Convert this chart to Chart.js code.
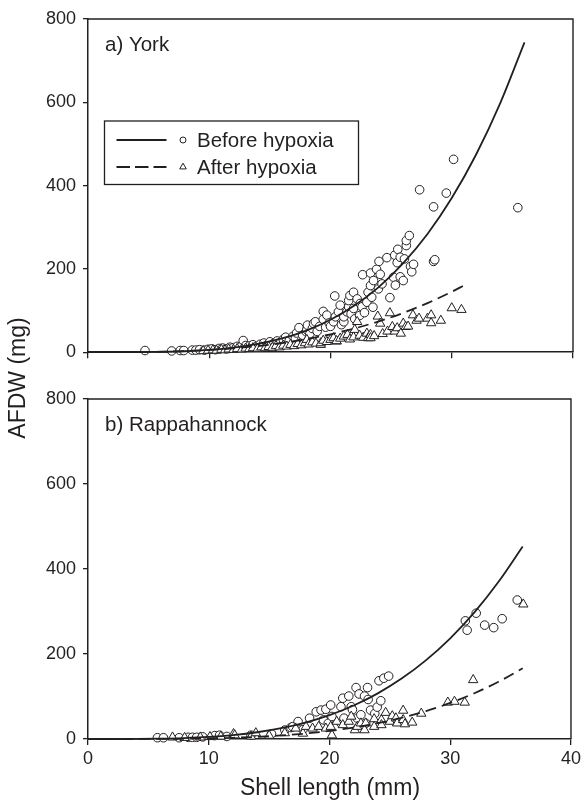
<!DOCTYPE html>
<html><head><meta charset="utf-8">
<script src="https://cdn.jsdelivr.net/npm/chart.js@4.4.0/dist/chart.umd.min.js"></script>
<style>
html,body{margin:0;padding:0;background:#fff;}
body{width:584px;height:801px;position:relative;overflow:hidden;font-family:"Liberation Sans",Arial,sans-serif;color:#231f20;}
#w1{position:absolute;left:0;top:0;width:584px;height:370px;}
#w2{position:absolute;left:0;top:380px;width:584px;height:421px;}
.ytitle{position:absolute;left:-83px;top:363px;width:200px;height:30px;line-height:30px;text-align:center;font-size:23px;transform:rotate(-90deg);white-space:nowrap;}
.xtitle{position:absolute;left:180px;top:772px;width:300px;height:30px;line-height:30px;text-align:center;font-size:23px;white-space:nowrap;}
</style></head>
<body>
<div id="w1"><canvas id="c1" width="584" height="370"></canvas></div>
<div id="w2"><canvas id="c2" width="584" height="421"></canvas></div>
<div class="ytitle">AFDW (mg)</div>
<div class="xtitle">Shell length (mm)</div>
<script>
// ---------- data ----------
const xTicks = [0, 10, 20, 30, 40];
const yTicks = [0, 200, 400, 600, 800];
const panelNames = ['a) York', 'b) Rappahannock'];
const seriesNames = ['Before hypoxia', 'After hypoxia'];

// fitted curves
const curveX = [0,2,4,6,8,10,12,14,16,18,20,22,24,26,28,30,32,34,36];
const yorkBeforeFit = [0,0,0.2,0.8,2.3,5.5,11.1,20,33,52,78,113,157,214,284,370,474,598,744];
const yorkAfterCurveX = [0,2,4,6,8,10,12,14,16,18,20,22,24,26,28,30,31];
const yorkAfterFit = [0,0.04,0.34,1.16,2.75,5.4,9.3,14.7,22,31.3,43,57.2,74.2,94.4,117.9,145,160];
const rappBeforeFit = [0,0,0.2,0.8,2.2,4.8,9.2,15.9,25.5,38.7,56.2,78.9,107.4,142.7,185.6,237,298,370,453];
const rappAfterFit = [0,0,0.05,0.22,0.64,1.46,2.86,5.06,8.3,12.8,18.9,26.9,37.1,50,65.7,84.8,107.7,134.7,166.5];

// York, before hypoxia (circles)
const yorkBeforeX = [4.7,6.9,7.6,7.9,8.6,8.9,9.2,9.6,9.9,10.2,10.5,10.8,11.1,11.4,11.7,12.0,12.3,12.6,12.8,13.0,13.3,13.6,13.9,14.2,14.5,14.8,15.0,15.3,15.6,15.9,16.1,16.3,16.6,16.9,17.1,17.2,17.4,17.7,18.0,18.05,18.1,18.3,18.5,18.6,18.75,18.9,19.1,19.4,19.4,19.6,19.7,19.9,20.0,20.25,20.35,20.4,20.65,20.8,20.9,21.1,21.1,21.35,21.5,21.5,21.6,21.7,21.9,21.9,22.0,22.2,22.4,22.45,22.6,22.65,22.8,23.0,23.1,23.3,23.3,23.4,23.5,23.55,23.8,23.95,24.0,24.1,24.25,24.65,24.9,25.2,25.3,25.35,25.5,25.55,25.75,25.75,26.0,26.1,26.25,26.25,26.5,26.6,26.7,26.85,27.35,28.5,28.5,28.6,29.55,30.15,35.45];
const yorkBeforeY = [4,3,4,4,5,5,6,5,7,8,6,9,10,8,12,11,14,13,28,16,15,18,14,19,22,18,25,21,27,24,31,36,28,38,33,46,59,41,49,54,65,44,57,69,73,50,62,79,98,60,89,70,62,73,135,85,97,113,66,73,85,97,109,124,136,92,105,144,80,128,88,117,109,186,95,120,144,160,190,132,108,172,199,152,218,187,164,227,131,180,233,161,215,247,181,228,172,224,256,268,280,206,193,211,390,349,218,222,382,463,347];

// York, after hypoxia (triangles)
const yorkAfterX = [9.5,9.9,10.3,10.6,11.0,11.3,11.6,12.0,12.3,12.7,13.0,13.3,13.6,14.0,14.3,14.6,14.9,15.2,15.5,15.8,16.1,16.4,16.7,17.0,17.3,17.6,17.9,18.05,18.2,18.5,18.8,19.2,19.2,19.4,19.7,20.0,20.25,20.5,20.5,20.8,21.1,21.4,21.6,21.9,22.0,22.2,22.4,22.7,23.0,23.1,23.3,23.3,23.6,23.9,24.1,24.3,24.7,24.9,25.1,25.3,25.5,25.8,26.0,26.2,26.4,26.8,27.1,27.3,28.0,28.3,28.3,29.1,30.0,30.8];
const yorkAfterY = [3,4,5,4,6,5,7,6,8,7,9,8,10,9,12,10,13,11,15,12,16,14,18,15,20,17,22,30,19,24,21,18,22,28,25,30,34,26,27,33,38,42,31,36,54,73,40,35,45,34,42,34,39,86,69,44,50,94,61,50,58,45,69,61,62,89,76,81,81,70,89,76,106,102];

// Rappahannock, before hypoxia (circles)
const rappBeforeX = [5.75,6.25,7.55,8.3,8.65,9.0,9.5,10.5,10.9,11.5,13.5,15.2,16.3,16.8,16.95,17.4,17.8,18.35,18.9,19.3,19.5,19.7,19.9,20.1,20.2,20.95,20.95,21.1,21.2,21.6,21.8,21.9,22.2,22.3,22.45,22.6,22.9,23.0,23.15,23.2,23.4,23.75,23.95,24.1,24.25,24.5,24.9,31.25,31.4,32.15,32.85,33.6,34.3,35.55];
const rappBeforeY = [3,3,3,4,4,4,5,8,9,6,9,12,21,27,29,41,22,49,64,68,45,70,37,80,53,76,37,96,49,101,76,69,121,49,106,57,101,37,121,93,68,60,75,137,90,143,148,278,256,296,268,262,283,327];

// Rappahannock, after hypoxia (triangles)
const rappAfterX = [7.0,8.0,9.3,10.1,11.0,12.05,12.15,13.5,13.9,15.0,16.3,17.2,17.8,18.05,18.6,19.1,19.7,20.1,20.2,20.6,21.1,21.6,21.8,22.1,22.3,22.6,22.9,23.0,23.7,23.7,24.3,24.3,24.65,25.0,25.2,25.5,25.6,26.1,26.1,26.25,26.85,27.6,29.8,30.35,31.2,31.9,36.05];
const rappAfterY = [4,3,4,5,6,12,9,6,14,8,14,25,13,29,25,29,25,29,9,41,33,41,53,21,29,37,21,37,47,29,45,33,62,41,54,49,37,67,45,35,39,60,86,88,86,139,317];

// ---------- drawing ----------
const INK = '#231f20';
const FONT = '"Liberation Sans", Arial, sans-serif';
const pts = (xs, ys) => xs.map((x, i) => ({x: x, y: ys[i]}));

function datasets(bx, by, ax, ay, cbx, cby, cax, cay) {
  return [
    {label: seriesNames[0] + ' fit', data: pts(cbx, cby), showLine: true, pointRadius: 0,
     borderColor: INK, borderWidth: 1.8, cubicInterpolationMode: 'monotone', clip: false},
    {label: seriesNames[1] + ' fit', data: pts(cax, cay), showLine: true, pointRadius: 0,
     borderColor: INK, borderWidth: 1.8, borderDash: [11, 6], cubicInterpolationMode: 'monotone', clip: false},
    {label: seriesNames[1], data: pts(ax, ay), pointStyle: 'triangle', pointRadius: 5.4,
     backgroundColor: '#fff', borderColor: INK, borderWidth: 1, clip: false},
    {label: seriesNames[0], data: pts(bx, by), pointStyle: 'circle', pointRadius: 4.3,
     backgroundColor: '#fff', borderColor: INK, borderWidth: 1, clip: false}
  ];
}

function options(showXLabels, xAxisHeight) {
  return {
    responsive: false, animation: false, devicePixelRatio: 1,
    layout: {padding: {top: 19, right: 11, left: 0, bottom: 0}},
    plugins: {legend: {display: false}, tooltip: {enabled: false}},
    scales: {
      x: {type: 'linear', min: 0, max: 40,
        afterBuildTicks: (a) => { a.ticks = xTicks.map(v => ({value: v})); },
        ticks: {display: showXLabels, font: {family: FONT, size: 18}, color: INK, padding: 3, maxRotation: 0},
        grid: {drawOnChartArea: false, drawTicks: true, tickLength: 6, color: INK, lineWidth: 1.3},
        border: {display: true, color: INK, width: 1.5},
        afterFit: (a) => { a.height = xAxisHeight; }
      },
      y: {type: 'linear', min: 0, max: 800,
        afterBuildTicks: (a) => { a.ticks = yTicks.map(v => ({value: v})); },
        ticks: {font: {family: FONT, size: 18}, color: INK, padding: 7},
        grid: {drawOnChartArea: false, drawTicks: true, tickLength: 5, color: INK, lineWidth: 1.3},
        border: {display: true, color: INK, width: 1.5},
        afterFit: (a) => { a.width = 88; }
      }
    }
  };
}

function framePlugin(label, withLegend) {
  return {
    id: 'frame',
    afterDraw(chart) {
      const ctx = chart.ctx, a = chart.chartArea;
      ctx.save();
      ctx.strokeStyle = INK; ctx.lineWidth = 1.4;
      ctx.beginPath();
      ctx.moveTo(a.left, a.top); ctx.lineTo(a.right, a.top); ctx.lineTo(a.right, a.bottom);
      ctx.stroke();
      ctx.fillStyle = INK;
      ctx.font = '20.5px ' + FONT;
      ctx.textBaseline = 'middle'; ctx.textAlign = 'left';
      ctx.fillText(label, a.left + 17, a.top + 26.5);
      if (withLegend) {
        const L = a.left + 16.5, T = a.top + 102, W = 254, H = 63.5;
        ctx.lineWidth = 1.3;
        ctx.strokeRect(L, T, W, H);
        const rows = [T + 19, T + 46];
        ctx.lineWidth = 1.8;
        ctx.beginPath(); ctx.moveTo(L + 12, rows[0]); ctx.lineTo(L + 62, rows[0]); ctx.stroke();
        ctx.setLineDash([13.5, 5]);
        ctx.beginPath(); ctx.moveTo(L + 12, rows[1]); ctx.lineTo(L + 62, rows[1]); ctx.stroke();
        ctx.setLineDash([]);
        ctx.lineWidth = 1;
        ctx.fillStyle = '#fff';
        ctx.beginPath(); ctx.arc(L + 78.5, rows[0], 3, 0, Math.PI * 2); ctx.fill(); ctx.stroke();
        const r = 3.8, cx = L + 78.5, cy = rows[1];
        ctx.beginPath();
        for (let k = 0; k < 3; k++) {
          const ang = k * 2 * Math.PI / 3;
          const px = cx + Math.sin(ang) * r, py = cy - Math.cos(ang) * r;
          if (k === 0) ctx.moveTo(px, py); else ctx.lineTo(px, py);
        }
        ctx.closePath(); ctx.fill(); ctx.stroke();
        ctx.fillStyle = INK;
        ctx.font = '20.5px ' + FONT;
        ctx.fillText(seriesNames[0], L + 92.5, rows[0] + 1);
        ctx.fillText(seriesNames[1], L + 92.5, rows[1] + 1);
      }
      ctx.restore();
    }
  };
}

new Chart(document.getElementById('c1'), {
  type: 'scatter',
  data: {datasets: datasets(yorkBeforeX, yorkBeforeY, yorkAfterX, yorkAfterY, curveX, yorkBeforeFit, yorkAfterCurveX, yorkAfterFit)},
  options: options(false, 12),
  plugins: [framePlugin(panelNames[0], true)]
});

new Chart(document.getElementById('c2'), {
  type: 'scatter',
  data: {datasets: datasets(rappBeforeX, rappBeforeY, rappAfterX, rappAfterY, curveX, rappBeforeFit, curveX, rappAfterFit)},
  options: options(true, 62),
  plugins: [framePlugin(panelNames[1], false)]
});
</script>
</body></html>
